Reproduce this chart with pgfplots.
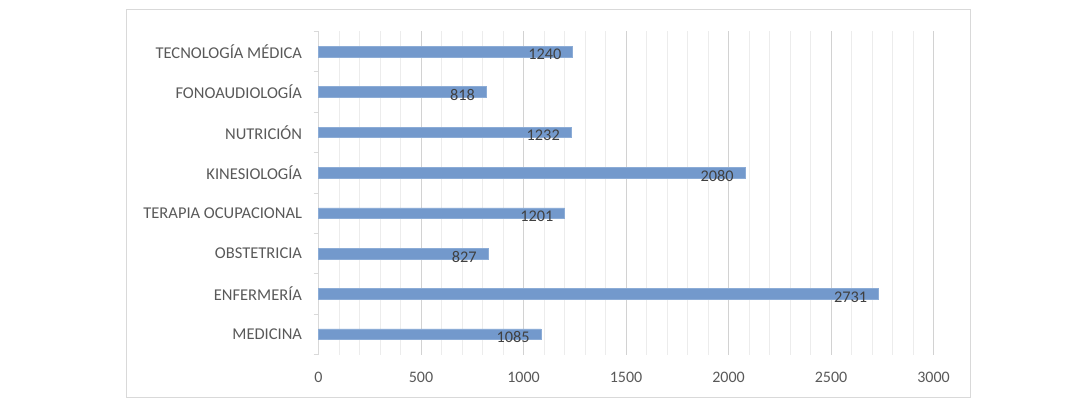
\documentclass[border=0pt]{standalone}
\usepackage{pgfplots}
\pgfplotsset{compat=1.18}
\usepackage{fontspec}
\setmainfont{Carlito}
\definecolor{barblue}{RGB}{115,153,204}
\definecolor{txt}{RGB}{89,89,89}
\definecolor{lbl}{RGB}{64,64,64}
\begin{document}
\begin{tikzpicture}
\path[use as bounding box] (0pt,0pt) rectangle (1090pt,407pt);
\draw[draw={rgb,255:red,217;green,217;blue,217}, line width=1pt] (126pt,9pt) rectangle (970pt,397pt);
\begin{axis}[
  at={(318.5pt,52.5pt)}, anchor=south west,
  scale only axis, width=615pt, height=323pt,
  xbar, bar width=10.7pt, bar shift=0pt,
  xmin=0, xmax=3000, ymin=-0.5, ymax=7.5,
  xtick={0,500,...,3000}, minor x tick num=4,
  xmajorgrids, xminorgrids,
  major x grid style={draw={rgb,255:red,210;green,210;blue,210}, line width=0.9pt},
  minor x grid style={draw={rgb,255:red,236;green,236;blue,236}, line width=0.9pt},
  x tick style={draw=none},
  ytick={0,...,7},
  yticklabels={MEDICINA,ENFERMERÍA,OBSTETRICIA,TERAPIA OCUPACIONAL,KINESIOLOGÍA,NUTRICIÓN,FONOAUDIOLOGÍA,TECNOLOGÍA MÉDICA},
  y tick style={draw=none},
  extra y ticks={-0.5,0.5,...,7.5},
  extra y tick labels={},
  extra y tick style={y tick style={draw={rgb,255:red,217;green,217;blue,217}, line width=0.9pt}, major tick length=5pt, tick align=outside, ymajorgrids=false},
  axis x line*=bottom, axis y line*=left,
  x axis line style={draw=none},
  y axis line style={draw={rgb,255:red,217;green,217;blue,217}, line width=0.9pt, -},
  /pgf/number format/assume math mode=true,
  /pgf/number format/1000 sep={},
  scaled x ticks=false,
  xticklabel style={font=\fontsize{16}{18}\selectfont, text=txt, inner sep=0pt, anchor=north, yshift=-17pt},
  yticklabel style={font=\fontsize{16.5}{18}\selectfont, text=txt, inner sep=0pt, anchor=east, xshift=-12pt},
  nodes near coords,
  every node near coord/.append style={anchor=east, xshift=-11pt, yshift=-3pt, font=\fontsize{16.3}{18}\selectfont, text=lbl, inner sep=0pt},
  clip=false,
]
\addplot[fill=barblue, draw={rgb,255:red,140;green,172;blue,214}, line width=0.6pt] coordinates {
  (1085,0) (2731,1) (827,2) (1201,3) (2080,4) (1232,5) (818,6) (1240,7)
};
\end{axis}
\end{tikzpicture}
\end{document}
